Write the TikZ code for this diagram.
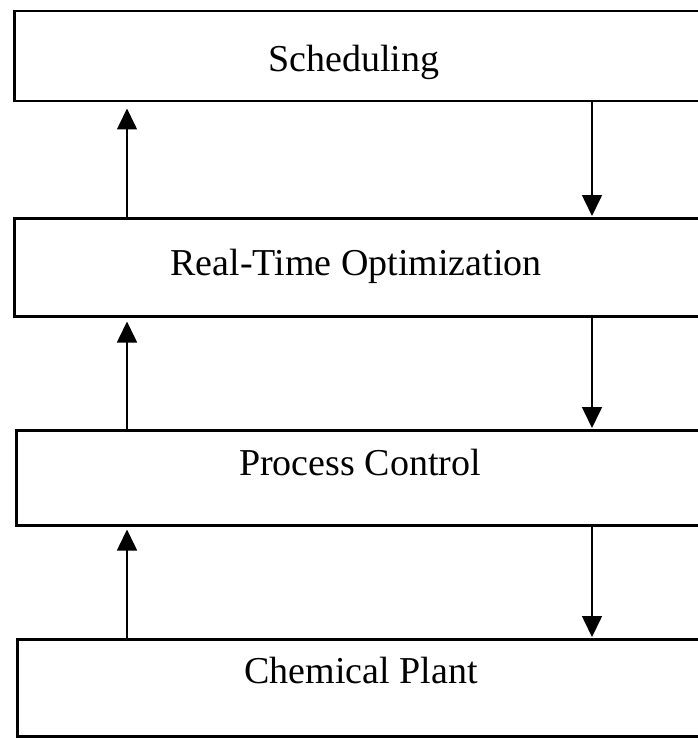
\documentclass[tikz,border=0pt]{standalone}
\usepackage{fontspec}
\setmainfont{Liberation Serif}
\usetikzlibrary{arrows.meta,calc}
\begin{document}
\begin{tikzpicture}[x=1pt,y=1pt,
  layerbox/.style={draw=black,line width=2.5pt,anchor=north west,inner sep=0pt,minimum width=760pt},
  layertext/.style={anchor=base,inner sep=0pt,font=\fontsize{38}{46}\selectfont},
  flow/.style={draw=black,line width=1.6pt,-{Triangle[width=20pt,length=21pt]}}]
  \useasboundingbox (0,0) rectangle (697,-738);
  % four stacked layers
  \node[layerbox,minimum height=90pt] (b1) at (13,-10) {};
  \node[layerbox,minimum height=98pt] (b2) at (13,-217) {};
  \node[layerbox,minimum height=95pt] (b3) at (15,-429) {};
  \node[layerbox,minimum height=97pt] (b4) at (16,-638) {};
  % layer names
  \node[layertext] (t1) at (354,-72) {Scheduling};
  \node[layertext] (t2) at (356,-275) {Real-Time Optimization};
  \node[layertext] (t3) at (360,-475) {Process Control};
  \node[layertext] (t4) at (361,-683) {Chemical Plant};
  % columns of the up and down connectors
  \coordinate (ux) at (127,0);
  \coordinate (dx) at (592,0);
  % information passed upward
  \draw[flow,shorten >=6pt] (ux |- b2.north) -- (ux |- b1.south);
  \draw[flow,shorten >=4pt] (ux |- b3.north) -- (ux |- b2.south);
  \draw[flow,shorten >=3pt] (ux |- b4.north) -- (ux |- b3.south);
  % decisions passed downward
  \draw[flow,shorten >=1pt] (dx |- b1.south) -- (dx |- b2.north);
  \draw[flow,shorten >=1pt] (dx |- b2.south) -- (dx |- b3.north);
  \draw[flow,shorten >=1pt] (dx |- b3.south) -- (dx |- b4.north);
\end{tikzpicture}
\end{document}
